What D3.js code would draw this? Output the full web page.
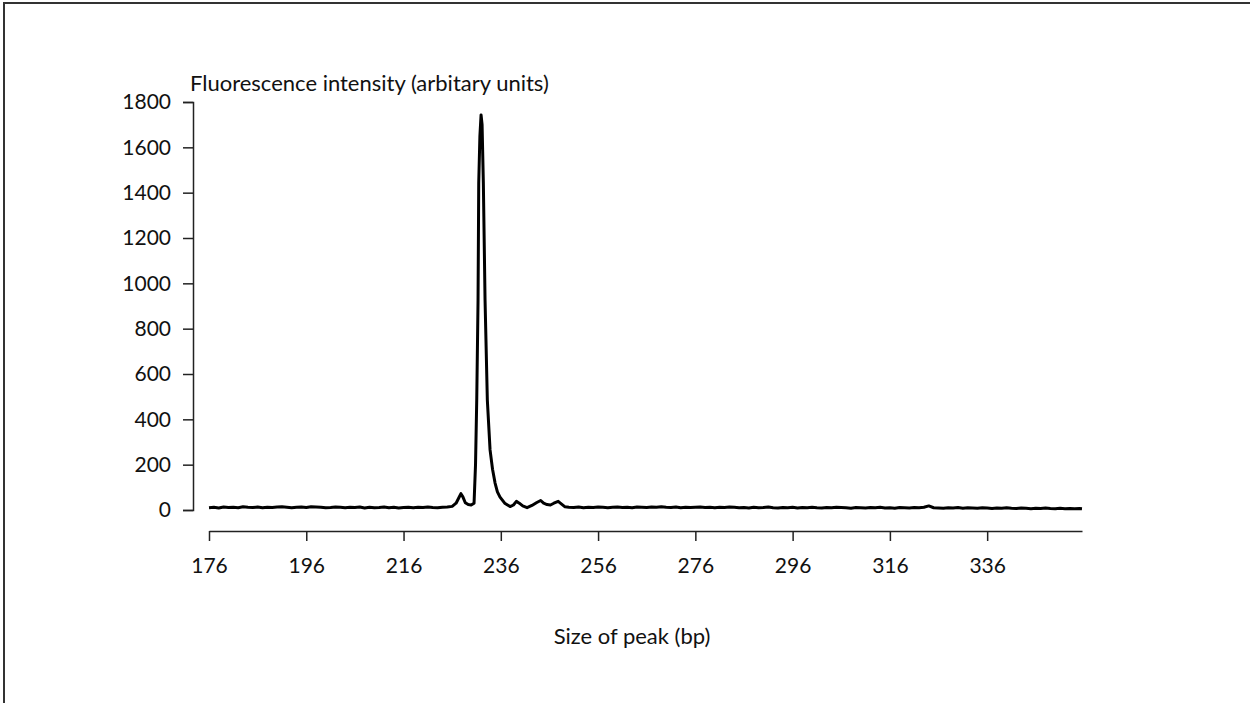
<!DOCTYPE html>
<html>
<head>
<meta charset="utf-8">
<script src="https://cdn.jsdelivr.net/npm/d3@7"></script>
<style>
  body { margin: 0; background: #fff; }
  text { font-family: Lato, "Open Sans", sans-serif; fill: #111; }
</style>
</head>
<body>
<script>
// electropherogram trace, values
const peakSize = [
  176, 177, 178, 179, 180, 181, 182, 183, 184, 185, 186, 187, 188, 189, 190,
  191, 192, 193, 194, 195, 196, 197, 198, 199, 200, 201, 202, 203, 204, 205,
  206, 207, 208, 209, 210, 211, 212, 213, 214, 215, 216, 217, 218, 219, 220,
  221, 222, 223, 224, 225, 226, 226.8, 227.4, 227.8, 228.2, 228.7, 229.3, 229.9,
  230.5, 230.8, 231.05, 231.32, 231.46, 231.7, 231.94, 232.15, 232.41, 232.76, 233.23,
  233.79, 234.3, 234.82, 235.3, 235.84, 236.8, 237.9, 238.6, 239.2, 239.8, 240.5, 241.4,
  242.4, 243.4, 244.2, 244.8, 245.5, 246.2, 246.9, 247.8, 248.5, 249.2, 250,
  251, 252, 253, 254, 255, 256, 257, 258, 259, 260, 261, 262, 263, 264, 265,
  266, 267, 268, 269, 270, 271, 272, 273, 274, 275, 276, 277, 278, 279, 280,
  281, 282, 283, 284, 285, 286, 287, 288, 289, 290, 291, 292, 293, 294, 295,
  296, 297, 298, 299, 300, 301, 302, 303, 304, 305, 306, 307, 308, 309, 310,
  311, 312, 313, 314, 315, 316, 317, 318, 319, 320, 321, 322, 323, 324, 325,
  326, 327, 328, 329, 330, 331, 332, 333, 334, 335, 336, 337, 338, 339, 340,
  341, 342, 343, 344, 345, 346, 347, 348, 349, 350, 351, 352, 353, 354, 355,
  355.5
];
const intensity = [
  10, 12, 9, 13, 11, 12, 10, 14, 12, 11, 13, 10, 12, 11, 13,
  14, 12, 10, 12, 13, 11, 14, 13, 12, 10, 11, 13, 12, 10, 12,
  11, 13, 9, 12, 10, 11, 13, 10, 12, 9, 11, 12, 10, 12, 11,
  13, 11, 10, 12, 13, 16, 30, 55, 72, 58, 32, 24, 22,
  30, 200, 485, 926, 1443, 1650, 1743, 1700, 1443, 926, 485,
  265, 180, 119, 80, 57, 30, 15, 22, 38, 30, 18, 10,
  20, 33, 42, 30, 24, 22, 30, 38, 26, 14, 12,
  11, 13, 10, 12, 11, 13, 12, 10, 12, 13, 11, 12, 10, 13, 12,
  11, 13, 12, 14, 12, 11, 13, 10, 12, 11, 12, 13, 11, 12, 10,
  12, 11, 13, 12, 10, 11, 9, 12, 10, 11, 13, 10, 9, 11, 10,
  12, 9, 11, 10, 12, 10, 9, 11, 10, 12, 11, 10, 8, 11, 10,
  9, 11, 10, 12, 9, 10, 8, 11, 10, 9, 11, 10, 12, 18, 10,
  9, 8, 10, 9, 11, 8, 10, 9, 8, 10, 9, 7, 9, 8, 10,
  8, 7, 9, 8, 6, 8, 7, 9, 7, 6, 8, 6, 7, 5, 7,
  6
];
const xTicks = [176, 196, 216, 236, 256, 276, 296, 316, 336];
const yTicks = [0, 200, 400, 600, 800, 1000, 1200, 1400, 1600, 1800];

const svgWidth = 1250;
const svgHeight = 703;
const plot = { left: 193, right: 1082, top: 102, bottom: 510 };
const xAxisY = 531;

const svg = d3.select('body').append('svg')
  .attr('width', svgWidth)
  .attr('height', svgHeight);

// frame (only top and left edges fall inside the picture)
svg.append('rect')
  .attr('x', 4)
  .attr('y', 3)
  .attr('width', 1300)
  .attr('height', 800)
  .attr('fill', 'none')
  .attr('stroke', '#333')
  .attr('stroke-width', 2);

const xScale = d3.scaleLinear()
  .domain([176, 355.5])
  .range([209, plot.right]);

const yScale = d3.scaleLinear()
  .domain([0, 1800])
  .range([plot.bottom, plot.top]);

const yAxis = d3.axisLeft(yScale)
  .tickValues(yTicks)
  .tickSize(10)
  .tickPadding(12)
  .tickFormat(d3.format('d'));

svg.append('g')
  .attr('class', 'axis')
  .attr('transform', `translate(${plot.left}, 0)`)
  .call(yAxis);

const xAxis = d3.axisBottom(xScale)
  .tickValues(xTicks)
  .tickSize(10)
  .tickSizeOuter(0)
  .tickPadding(17)
  .tickFormat(d3.format('d'));

svg.append('g')
  .attr('class', 'axis')
  .attr('transform', `translate(0, ${xAxisY})`)
  .call(xAxis);

svg.selectAll('.axis path, .axis line')
  .attr('stroke', '#222')
  .attr('stroke-width', 1.5);
svg.selectAll('.axis text')
  .style('font-family', 'Lato, "Open Sans", sans-serif')
  .attr('font-size', 21)
  .attr('fill', '#111');

const trace = peakSize.map((s, i) => ({ size: s, value: intensity[i] }));

const line = d3.line()
  .x(d => xScale(d.size))
  .y(d => yScale(d.value));

svg.append('path')
  .datum(trace)
  .attr('d', line)
  .attr('fill', 'none')
  .attr('stroke', '#000')
  .attr('stroke-width', 3)
  .attr('stroke-linejoin', 'round');

svg.append('text')
  .attr('x', 190)
  .attr('y', 91)
  .attr('font-size', 22)
  .text('Fluorescence intensity (arbitary units)');

svg.append('text')
  .attr('x', 632)
  .attr('y', 644)
  .attr('text-anchor', 'middle')
  .attr('font-size', 22)
  .text('Size of peak (bp)');
</script>
</body>
</html>
